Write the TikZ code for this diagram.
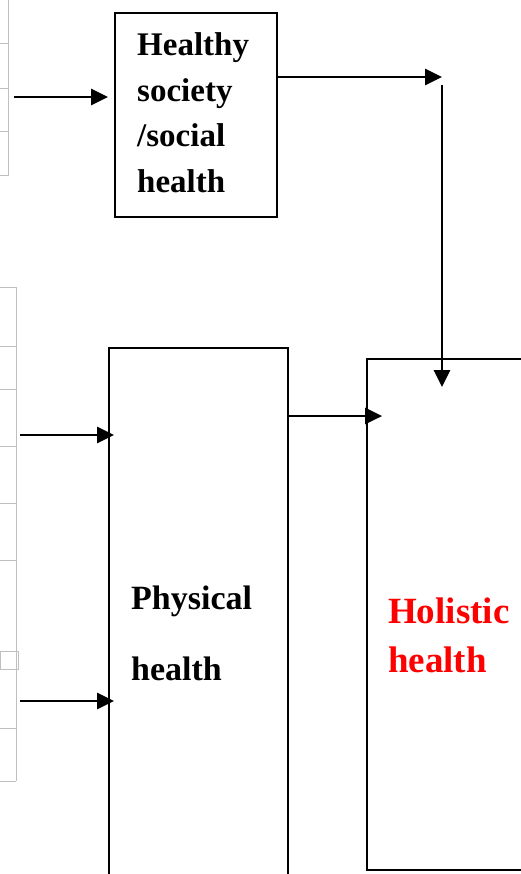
\documentclass[tikz,border=0pt]{standalone}
\usepackage{fontspec}
\setmainfont{Liberation Serif}
\usetikzlibrary{arrows.meta}
\tikzset{
  box/.style={draw=black, line width=1.9pt, rectangle, inner sep=0pt},
  conn/.style={line width=2.8pt, -{Triangle[length=17pt,width=16pt]}},
  grid/.style={draw=black!25, line width=1pt},
  lbl/.style={anchor=base west, inner sep=0pt},
  fa/.style={font=\fontsize{33}{38}\selectfont\bfseries},
  fb/.style={font=\fontsize{34}{40}\selectfont\bfseries},
  fc/.style={font=\fontsize{37}{42}\selectfont\bfseries, text=red},
}
\begin{document}
\begin{tikzpicture}[x=1pt,y=-1pt]
\useasboundingbox (0,0) rectangle (521,874);
\clip (0,0) rectangle (521,874);
% gray table fragments on the left
\draw[grid] (8,0) -- (8,176);
\foreach \yy in {44,89,132,176} \draw[grid] (0,\yy) -- (8,\yy);
\draw[grid] (16,287) -- (16,781);
\foreach \yy in {287,346,389,446,503,560,728,781} \draw[grid] (0,\yy) -- (16,\yy);
\draw[grid] (0,651) rectangle (18,669);
% boxes
\node[box, minimum width=162pt, minimum height=204pt] (healthy) at (196,115) {};
\node[box, minimum width=179pt, minimum height=560pt] (physical) at (198.5,628) {};
\node[box, minimum width=170pt, minimum height=511pt] (holistic) at (452,614.5) {};
% texts
\node[lbl, fa] (h1) at (137,55.5) {Healthy};
\node[lbl, fa] (h2) at (137,101.2) {society};
\node[lbl, fa] (h3) at (137,146.9) {/social};
\node[lbl, fa] (h4) at (137,192.6) {health};
\node[lbl, fb] (p1) at (131,609) {Physical};
\node[lbl, fb] (p2) at (131,680) {health};
\node[lbl, fc] (o1) at (388,623) {Holistic};
\node[lbl, fc] (o2) at (388,672) {health};
% connector coordinates
\coordinate (in1) at (14,97);
\coordinate (in2) at (20,435);
\coordinate (in3) at (20,701);
\coordinate (turn) at (442,77);
\coordinate (down) at (442,85);
% connectors
\draw[conn] (in1) -- ([xshift=-6pt]healthy.west |- in1);
\draw[conn] (in2) -- ([xshift=6pt]physical.west |- in2);
\draw[conn] (in3) -- ([xshift=6pt]physical.west |- in3);
\draw[conn] (healthy.east |- turn) -- (turn);
\draw[conn] (down) -- ([yshift=-29pt]holistic.north -| down);
\draw[conn] ([yshift=-69pt]physical.north east) -- ([xshift=16pt,yshift=-69pt]physical.north east -| holistic.west);
\end{tikzpicture}
\end{document}
